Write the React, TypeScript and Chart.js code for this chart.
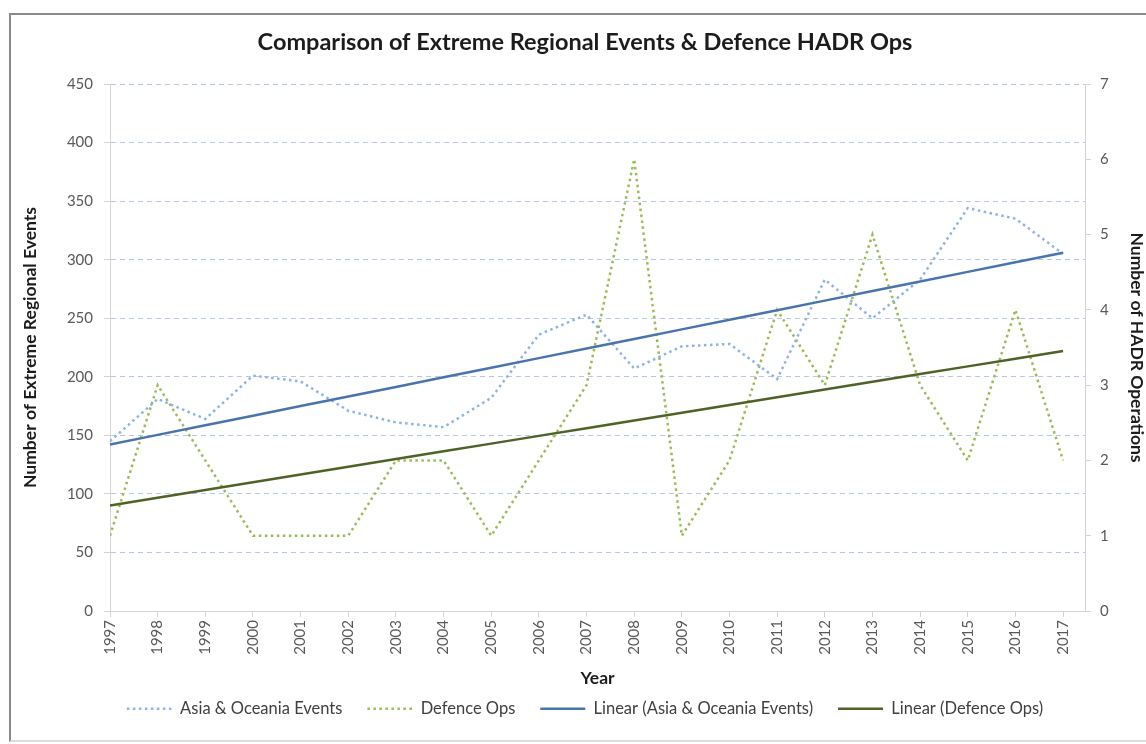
import React, { useEffect, useRef } from "react";
import { Chart, registerables } from "chart.js";

Chart.register(...registerables);

const years = [1997, 1998, 1999, 2000, 2001, 2002, 2003, 2004, 2005, 2006, 2007, 2008, 2009, 2010, 2011, 2012, 2013, 2014, 2015, 2016, 2017];
const asiaEvents = [145, 181, 164, 201, 196, 171, 161, 157, 182, 236, 253, 207, 226, 228, 198, 283, 250, 283, 344, 335, 305];
const defenceOps = [1, 3, 2, 1, 1, 1, 2, 2, 1, 2, 3, 6, 1, 2, 4, 3, 5, 3, 2, 4, 2];
const leftTicks = [0, 50, 100, 150, 200, 250, 300, 350, 400, 450];
const rightTicks = [0, 1, 2, 3, 4, 5, 6, 7];

const seriesLabels = [
  "Asia & Oceania Events",
  "Defence Ops",
  "Linear (Asia & Oceania Events)",
  "Linear (Defence Ops)",
];
const titleText = "Comparison of Extreme Regional Events & Defence HADR Ops";

function linearFit(xs: number[], ys: number[]): number[] {
  const n = xs.length;
  const mx = xs.reduce((a, b) => a + b, 0) / n;
  const my = ys.reduce((a, b) => a + b, 0) / n;
  let sxy = 0;
  let sxx = 0;
  for (let i = 0; i < n; i++) {
    sxy += (xs[i] - mx) * (ys[i] - my);
    sxx += (xs[i] - mx) * (xs[i] - mx);
  }
  const slope = sxy / sxx;
  return xs.map((x) => my + slope * (x - mx));
}

const FONT = "Lato, 'Open Sans', sans-serif";
const TICK_COLOR = "#595959";
const TITLE_COLOR = "#1c1c1c";
const GRID_COLOR = "#b8c8ea";
const AXIS_COLOR = "#d4d4d4";

export default function App() {
  const ref = useRef<HTMLCanvasElement>(null);

  useEffect(() => {
    if (!ref.current) return;
    const asiaFit = linearFit(years, asiaEvents);
    const defFit = linearFit(years, defenceOps);
    const pts = (vals: number[]) => years.map((y, i) => ({ x: y, y: vals[i] }));

    const chart = new Chart(ref.current, {
      type: "line",
      data: {
        datasets: [
          {
            label: seriesLabels[0],
            data: pts(asiaEvents),
            yAxisID: "y",
            borderColor: "#8db4e2",
            borderWidth: 2.5,
            borderDash: [2.5, 3.5],
            pointRadius: 0,
            tension: 0,
            fill: false,
            order: 2,
          },
          {
            label: seriesLabels[1],
            data: pts(defenceOps),
            yAxisID: "y1",
            borderColor: "#9bbb59",
            borderWidth: 2.5,
            borderDash: [2.5, 3.5],
            pointRadius: 0,
            tension: 0,
            fill: false,
            order: 2,
          },
          {
            label: seriesLabels[2],
            data: pts(asiaFit),
            yAxisID: "y",
            borderColor: "#4a74ac",
            borderWidth: 2.5,
            pointRadius: 0,
            tension: 0,
            fill: false,
            order: 1,
          },
          {
            label: seriesLabels[3],
            data: pts(defFit),
            yAxisID: "y1",
            borderColor: "#4f6228",
            borderWidth: 2.5,
            pointRadius: 0,
            tension: 0,
            fill: false,
            order: 1,
          },
        ],
      },
      options: {
        responsive: false,
        animation: false,
        layout: { padding: { left: 13, right: 0, top: 0, bottom: 13 } },
        plugins: {
          tooltip: { enabled: false },
          title: {
            display: true,
            text: titleText,
            color: TITLE_COLOR,
            font: { family: FONT, size: 23.5, weight: "bold" },
            padding: { top: 12.9, bottom: 27.9 },
          },
          legend: {
            position: "bottom",
            labels: {
              usePointStyle: true,
              pointStyleWidth: 45,
              boxHeight: 16.5,
              padding: 25,
              color: "#404040",
              font: { family: FONT, size: 16.5 },
              generateLabels: (c: any) =>
                c.data.datasets.map((ds: any, i: number) => ({
                  text: ds.label,
                  fillStyle: "rgba(0,0,0,0)",
                  strokeStyle: ds.borderColor,
                  lineWidth: ds.borderWidth,
                  lineDash: ds.borderDash || [],
                  lineCap: "butt",
                  pointStyle: "line",
                  hidden: false,
                  datasetIndex: i,
                  fontColor: "#404040",
                })),
            },
          },
        },
        scales: {
          x: {
            type: "linear",
            min: years[0],
            max: years[years.length - 1] + 0.46,
            afterBuildTicks: (s: any) => {
              s.ticks = years.map((v) => ({ value: v }));
            },
            afterFit: (s: any) => {
              s.height = 64.5;
            },
            ticks: {
              autoSkip: false,
              minRotation: 90,
              maxRotation: 90,
              padding: 3,
              color: TICK_COLOR,
              font: { family: FONT, size: 15 },
              callback: (v: any) => String(v),
            },
            grid: {
              drawOnChartArea: false,
              drawTicks: true,
              tickLength: 6,
              tickColor: AXIS_COLOR,
            },
            border: { display: true, color: AXIS_COLOR, width: 1 },
            title: {
              display: true,
              text: "Year",
              color: TITLE_COLOR,
              font: { family: FONT, size: 17.5, weight: "bold" },
              padding: { top: 0, bottom: -13.5 },
            },
          },
          y: {
            type: "linear",
            position: "left",
            min: 0,
            max: 450,
            afterBuildTicks: (s: any) => {
              s.ticks = leftTicks.map((v) => ({ value: v }));
            },
            afterFit: (s: any) => {
              s.width = 86;
            },
            ticks: {
              padding: 11,
              color: TICK_COLOR,
              font: { family: FONT, size: 15 },
              callback: (v: any) => String(v),
            },
            grid: {
              color: GRID_COLOR,
              lineWidth: 1,
              drawTicks: true,
              tickLength: 6,
              tickColor: AXIS_COLOR,
            },
            border: { display: true, color: AXIS_COLOR, width: 1, dash: [5, 4] },
            title: {
              display: true,
              text: "Number of Extreme Regional Events",
              color: TITLE_COLOR,
              font: { family: FONT, size: 17.5, weight: "bold" },
              padding: { top: -4.5, bottom: 0 },
            },
          },
          y1: {
            type: "linear",
            position: "right",
            min: 0,
            max: 7,
            afterBuildTicks: (s: any) => {
              s.ticks = rightTicks.map((v) => ({ value: v }));
            },
            afterFit: (s: any) => {
              s.width = 61;
            },
            ticks: {
              padding: 9,
              color: TICK_COLOR,
              font: { family: FONT, size: 15 },
              callback: (v: any) => String(v),
            },
            grid: {
              drawOnChartArea: false,
              drawTicks: true,
              tickLength: 6,
              tickColor: AXIS_COLOR,
            },
            border: { display: true, color: AXIS_COLOR, width: 1 },
            title: {
              display: true,
              text: "Number of HADR Operations",
              color: TITLE_COLOR,
              font: { family: FONT, size: 17.5, weight: "bold" },
              padding: { top: -1.5, bottom: 0 },
            },
          },
        },
      } as any,
    });
    return () => chart.destroy();
  }, []);

  return (
    <div
      style={{
        position: "absolute",
        left: 9,
        top: 13,
        width: 1135,
        height: 725,
        borderLeft: "2px solid #8a8a8a",
        borderTop: "2px solid #8a8a8a",
        borderBottom: "2px solid #dadada",
        background: "#ffffff",
      }}
    >
      <canvas ref={ref} width={1135} height={725} style={{ display: "block" }} />
    </div>
  );
}
